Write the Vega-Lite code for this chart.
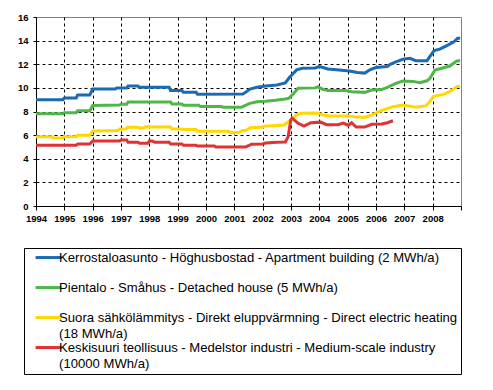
{
  "$schema": "https://vega.github.io/schema/vega-lite/v6.json",
  "width": 425,
  "height": 189,
  "autosize": {"type": "none"},
  "padding": {"left": 36, "top": 17, "right": 32, "bottom": 184},
  "background": "white",
  "config": {
    "view": {"stroke": "#808080", "strokeWidth": 1, "fill": "white"},
    "axis": {
      "labelFont": "Liberation Sans",
      "labelFontWeight": "bold",
      "labelFontSize": 9.5,
      "labelColor": "black",
      "domainColor": "black",
      "tickColor": "black",
      "gridColor": "black",
      "gridDash": [3, 3],
      "gridWidth": 1,
      "title": null
    }
  },
  "datasets": {
    "prices": [
      {"s": "Kerrostaloasunto - Höghusbostad - Apartment building (2 MWh/a)", "x": 1994.0, "v": 9.0},
      {"s": "Kerrostaloasunto - Höghusbostad - Apartment building (2 MWh/a)", "x": 1994.95, "v": 9.0},
      {"s": "Kerrostaloasunto - Höghusbostad - Apartment building (2 MWh/a)", "x": 1995.0, "v": 9.15},
      {"s": "Kerrostaloasunto - Höghusbostad - Apartment building (2 MWh/a)", "x": 1995.42, "v": 9.15},
      {"s": "Kerrostaloasunto - Höghusbostad - Apartment building (2 MWh/a)", "x": 1995.47, "v": 9.4},
      {"s": "Kerrostaloasunto - Höghusbostad - Apartment building (2 MWh/a)", "x": 1995.9, "v": 9.4},
      {"s": "Kerrostaloasunto - Höghusbostad - Apartment building (2 MWh/a)", "x": 1996.0, "v": 9.9},
      {"s": "Kerrostaloasunto - Höghusbostad - Apartment building (2 MWh/a)", "x": 1996.8, "v": 9.9},
      {"s": "Kerrostaloasunto - Höghusbostad - Apartment building (2 MWh/a)", "x": 1996.85, "v": 10.0},
      {"s": "Kerrostaloasunto - Höghusbostad - Apartment building (2 MWh/a)", "x": 1997.2, "v": 10.0},
      {"s": "Kerrostaloasunto - Höghusbostad - Apartment building (2 MWh/a)", "x": 1997.25, "v": 10.15},
      {"s": "Kerrostaloasunto - Höghusbostad - Apartment building (2 MWh/a)", "x": 1997.6, "v": 10.15},
      {"s": "Kerrostaloasunto - Höghusbostad - Apartment building (2 MWh/a)", "x": 1997.65, "v": 10.05},
      {"s": "Kerrostaloasunto - Höghusbostad - Apartment building (2 MWh/a)", "x": 1998.7, "v": 10.05},
      {"s": "Kerrostaloasunto - Höghusbostad - Apartment building (2 MWh/a)", "x": 1998.75, "v": 9.78},
      {"s": "Kerrostaloasunto - Höghusbostad - Apartment building (2 MWh/a)", "x": 1999.15, "v": 9.78},
      {"s": "Kerrostaloasunto - Höghusbostad - Apartment building (2 MWh/a)", "x": 1999.2, "v": 9.63},
      {"s": "Kerrostaloasunto - Höghusbostad - Apartment building (2 MWh/a)", "x": 1999.65, "v": 9.63},
      {"s": "Kerrostaloasunto - Höghusbostad - Apartment building (2 MWh/a)", "x": 1999.7, "v": 9.47},
      {"s": "Kerrostaloasunto - Höghusbostad - Apartment building (2 MWh/a)", "x": 2001.3, "v": 9.48},
      {"s": "Kerrostaloasunto - Höghusbostad - Apartment building (2 MWh/a)", "x": 2001.4, "v": 9.63},
      {"s": "Kerrostaloasunto - Höghusbostad - Apartment building (2 MWh/a)", "x": 2001.55, "v": 9.9},
      {"s": "Kerrostaloasunto - Höghusbostad - Apartment building (2 MWh/a)", "x": 2001.8, "v": 10.05},
      {"s": "Kerrostaloasunto - Höghusbostad - Apartment building (2 MWh/a)", "x": 2002.1, "v": 10.16},
      {"s": "Kerrostaloasunto - Höghusbostad - Apartment building (2 MWh/a)", "x": 2002.5, "v": 10.25},
      {"s": "Kerrostaloasunto - Höghusbostad - Apartment building (2 MWh/a)", "x": 2002.8, "v": 10.42},
      {"s": "Kerrostaloasunto - Höghusbostad - Apartment building (2 MWh/a)", "x": 2002.95, "v": 10.9},
      {"s": "Kerrostaloasunto - Höghusbostad - Apartment building (2 MWh/a)", "x": 2003.2, "v": 11.52},
      {"s": "Kerrostaloasunto - Höghusbostad - Apartment building (2 MWh/a)", "x": 2003.4, "v": 11.66},
      {"s": "Kerrostaloasunto - Höghusbostad - Apartment building (2 MWh/a)", "x": 2003.85, "v": 11.68},
      {"s": "Kerrostaloasunto - Höghusbostad - Apartment building (2 MWh/a)", "x": 2004.0, "v": 11.8},
      {"s": "Kerrostaloasunto - Höghusbostad - Apartment building (2 MWh/a)", "x": 2004.1, "v": 11.75},
      {"s": "Kerrostaloasunto - Höghusbostad - Apartment building (2 MWh/a)", "x": 2004.3, "v": 11.6},
      {"s": "Kerrostaloasunto - Höghusbostad - Apartment building (2 MWh/a)", "x": 2004.7, "v": 11.52},
      {"s": "Kerrostaloasunto - Höghusbostad - Apartment building (2 MWh/a)", "x": 2005.05, "v": 11.43},
      {"s": "Kerrostaloasunto - Höghusbostad - Apartment building (2 MWh/a)", "x": 2005.35, "v": 11.3},
      {"s": "Kerrostaloasunto - Höghusbostad - Apartment building (2 MWh/a)", "x": 2005.6, "v": 11.25},
      {"s": "Kerrostaloasunto - Höghusbostad - Apartment building (2 MWh/a)", "x": 2005.8, "v": 11.55},
      {"s": "Kerrostaloasunto - Höghusbostad - Apartment building (2 MWh/a)", "x": 2006.0, "v": 11.72},
      {"s": "Kerrostaloasunto - Höghusbostad - Apartment building (2 MWh/a)", "x": 2006.4, "v": 11.8},
      {"s": "Kerrostaloasunto - Höghusbostad - Apartment building (2 MWh/a)", "x": 2006.5, "v": 12.0},
      {"s": "Kerrostaloasunto - Höghusbostad - Apartment building (2 MWh/a)", "x": 2006.7, "v": 12.2},
      {"s": "Kerrostaloasunto - Höghusbostad - Apartment building (2 MWh/a)", "x": 2006.95, "v": 12.42},
      {"s": "Kerrostaloasunto - Höghusbostad - Apartment building (2 MWh/a)", "x": 2007.2, "v": 12.5},
      {"s": "Kerrostaloasunto - Höghusbostad - Apartment building (2 MWh/a)", "x": 2007.4, "v": 12.3},
      {"s": "Kerrostaloasunto - Höghusbostad - Apartment building (2 MWh/a)", "x": 2007.8, "v": 12.3},
      {"s": "Kerrostaloasunto - Höghusbostad - Apartment building (2 MWh/a)", "x": 2007.9, "v": 12.64},
      {"s": "Kerrostaloasunto - Höghusbostad - Apartment building (2 MWh/a)", "x": 2008.05, "v": 13.15},
      {"s": "Kerrostaloasunto - Höghusbostad - Apartment building (2 MWh/a)", "x": 2008.25, "v": 13.28},
      {"s": "Kerrostaloasunto - Höghusbostad - Apartment building (2 MWh/a)", "x": 2008.5, "v": 13.58},
      {"s": "Kerrostaloasunto - Höghusbostad - Apartment building (2 MWh/a)", "x": 2008.75, "v": 13.9},
      {"s": "Kerrostaloasunto - Höghusbostad - Apartment building (2 MWh/a)", "x": 2008.88, "v": 14.2},
      {"s": "Kerrostaloasunto - Höghusbostad - Apartment building (2 MWh/a)", "x": 2008.97, "v": 14.2},

      {"s": "Pientalo - Småhus - Detached house (5 MWh/a)", "x": 1994.0, "v": 7.8},
      {"s": "Pientalo - Småhus - Detached house (5 MWh/a)", "x": 1994.95, "v": 7.8},
      {"s": "Pientalo - Småhus - Detached house (5 MWh/a)", "x": 1995.0, "v": 7.9},
      {"s": "Pientalo - Småhus - Detached house (5 MWh/a)", "x": 1995.42, "v": 7.9},
      {"s": "Pientalo - Småhus - Detached house (5 MWh/a)", "x": 1995.47, "v": 8.07},
      {"s": "Pientalo - Småhus - Detached house (5 MWh/a)", "x": 1995.9, "v": 8.07},
      {"s": "Pientalo - Småhus - Detached house (5 MWh/a)", "x": 1996.0, "v": 8.5},
      {"s": "Pientalo - Småhus - Detached house (5 MWh/a)", "x": 1996.95, "v": 8.55},
      {"s": "Pientalo - Småhus - Detached house (5 MWh/a)", "x": 1997.0, "v": 8.62},
      {"s": "Pientalo - Småhus - Detached house (5 MWh/a)", "x": 1997.2, "v": 8.62},
      {"s": "Pientalo - Småhus - Detached house (5 MWh/a)", "x": 1997.25, "v": 8.8},
      {"s": "Pientalo - Småhus - Detached house (5 MWh/a)", "x": 1998.75, "v": 8.8},
      {"s": "Pientalo - Småhus - Detached house (5 MWh/a)", "x": 1998.8, "v": 8.64},
      {"s": "Pientalo - Småhus - Detached house (5 MWh/a)", "x": 1999.15, "v": 8.64},
      {"s": "Pientalo - Småhus - Detached house (5 MWh/a)", "x": 1999.2, "v": 8.52},
      {"s": "Pientalo - Småhus - Detached house (5 MWh/a)", "x": 1999.75, "v": 8.52},
      {"s": "Pientalo - Småhus - Detached house (5 MWh/a)", "x": 1999.8, "v": 8.42},
      {"s": "Pientalo - Småhus - Detached house (5 MWh/a)", "x": 2000.55, "v": 8.42},
      {"s": "Pientalo - Småhus - Detached house (5 MWh/a)", "x": 2000.6, "v": 8.36},
      {"s": "Pientalo - Småhus - Detached house (5 MWh/a)", "x": 2001.25, "v": 8.36},
      {"s": "Pientalo - Småhus - Detached house (5 MWh/a)", "x": 2001.35, "v": 8.47},
      {"s": "Pientalo - Småhus - Detached house (5 MWh/a)", "x": 2001.55, "v": 8.69},
      {"s": "Pientalo - Småhus - Detached house (5 MWh/a)", "x": 2001.8, "v": 8.83},
      {"s": "Pientalo - Småhus - Detached house (5 MWh/a)", "x": 2002.1, "v": 8.87},
      {"s": "Pientalo - Småhus - Detached house (5 MWh/a)", "x": 2002.45, "v": 8.95},
      {"s": "Pientalo - Småhus - Detached house (5 MWh/a)", "x": 2002.8, "v": 9.06},
      {"s": "Pientalo - Småhus - Detached house (5 MWh/a)", "x": 2002.92, "v": 9.12},
      {"s": "Pientalo - Småhus - Detached house (5 MWh/a)", "x": 2003.1, "v": 9.55},
      {"s": "Pientalo - Småhus - Detached house (5 MWh/a)", "x": 2003.25, "v": 9.96},
      {"s": "Pientalo - Småhus - Detached house (5 MWh/a)", "x": 2003.85, "v": 10.0},
      {"s": "Pientalo - Småhus - Detached house (5 MWh/a)", "x": 2003.96, "v": 10.1},
      {"s": "Pientalo - Småhus - Detached house (5 MWh/a)", "x": 2004.1, "v": 9.9},
      {"s": "Pientalo - Småhus - Detached house (5 MWh/a)", "x": 2004.3, "v": 9.77},
      {"s": "Pientalo - Småhus - Detached house (5 MWh/a)", "x": 2004.9, "v": 9.77},
      {"s": "Pientalo - Småhus - Detached house (5 MWh/a)", "x": 2005.15, "v": 9.68},
      {"s": "Pientalo - Småhus - Detached house (5 MWh/a)", "x": 2005.6, "v": 9.62},
      {"s": "Pientalo - Småhus - Detached house (5 MWh/a)", "x": 2005.85, "v": 9.82},
      {"s": "Pientalo - Småhus - Detached house (5 MWh/a)", "x": 2006.2, "v": 9.86},
      {"s": "Pientalo - Småhus - Detached house (5 MWh/a)", "x": 2006.4, "v": 10.05},
      {"s": "Pientalo - Småhus - Detached house (5 MWh/a)", "x": 2006.7, "v": 10.38},
      {"s": "Pientalo - Småhus - Detached house (5 MWh/a)", "x": 2006.95, "v": 10.58},
      {"s": "Pientalo - Småhus - Detached house (5 MWh/a)", "x": 2007.3, "v": 10.55},
      {"s": "Pientalo - Småhus - Detached house (5 MWh/a)", "x": 2007.55, "v": 10.44},
      {"s": "Pientalo - Småhus - Detached house (5 MWh/a)", "x": 2007.8, "v": 10.6},
      {"s": "Pientalo - Småhus - Detached house (5 MWh/a)", "x": 2007.9, "v": 10.8},
      {"s": "Pientalo - Småhus - Detached house (5 MWh/a)", "x": 2008.08, "v": 11.5},
      {"s": "Pientalo - Småhus - Detached house (5 MWh/a)", "x": 2008.26, "v": 11.62},
      {"s": "Pientalo - Småhus - Detached house (5 MWh/a)", "x": 2008.6, "v": 11.85},
      {"s": "Pientalo - Småhus - Detached house (5 MWh/a)", "x": 2008.85, "v": 12.28},
      {"s": "Pientalo - Småhus - Detached house (5 MWh/a)", "x": 2008.97, "v": 12.3},

      {"s": "Suora sähkölämmitys - Direkt eluppvärmning - Direct electric heating (18 MWh/a)", "x": 1994.0, "v": 5.87},
      {"s": "Suora sähkölämmitys - Direkt eluppvärmning - Direct electric heating (18 MWh/a)", "x": 1994.55, "v": 5.87},
      {"s": "Suora sähkölämmitys - Direkt eluppvärmning - Direct electric heating (18 MWh/a)", "x": 1994.6, "v": 5.76},
      {"s": "Suora sähkölämmitys - Direkt eluppvärmning - Direct electric heating (18 MWh/a)", "x": 1994.95, "v": 5.76},
      {"s": "Suora sähkölämmitys - Direkt eluppvärmning - Direct electric heating (18 MWh/a)", "x": 1995.0, "v": 5.87},
      {"s": "Suora sähkölämmitys - Direkt eluppvärmning - Direct electric heating (18 MWh/a)", "x": 1995.42, "v": 5.87},
      {"s": "Suora sähkölämmitys - Direkt eluppvärmning - Direct electric heating (18 MWh/a)", "x": 1995.47, "v": 5.98},
      {"s": "Suora sähkölämmitys - Direkt eluppvärmning - Direct electric heating (18 MWh/a)", "x": 1995.9, "v": 5.98},
      {"s": "Suora sähkölämmitys - Direkt eluppvärmning - Direct electric heating (18 MWh/a)", "x": 1996.0, "v": 6.35},
      {"s": "Suora sähkölämmitys - Direkt eluppvärmning - Direct electric heating (18 MWh/a)", "x": 1996.9, "v": 6.4},
      {"s": "Suora sähkölämmitys - Direkt eluppvärmning - Direct electric heating (18 MWh/a)", "x": 1996.95, "v": 6.52},
      {"s": "Suora sähkölämmitys - Direkt eluppvärmning - Direct electric heating (18 MWh/a)", "x": 1997.18, "v": 6.52},
      {"s": "Suora sähkölämmitys - Direkt eluppvärmning - Direct electric heating (18 MWh/a)", "x": 1997.23, "v": 6.66},
      {"s": "Suora sähkölämmitys - Direkt eluppvärmning - Direct electric heating (18 MWh/a)", "x": 1997.6, "v": 6.66},
      {"s": "Suora sähkölämmitys - Direkt eluppvärmning - Direct electric heating (18 MWh/a)", "x": 1997.65, "v": 6.6},
      {"s": "Suora sähkölämmitys - Direkt eluppvärmning - Direct electric heating (18 MWh/a)", "x": 1997.8, "v": 6.6},
      {"s": "Suora sähkölämmitys - Direkt eluppvärmning - Direct electric heating (18 MWh/a)", "x": 1997.85, "v": 6.7},
      {"s": "Suora sähkölämmitys - Direkt eluppvärmning - Direct electric heating (18 MWh/a)", "x": 1998.75, "v": 6.68},
      {"s": "Suora sähkölämmitys - Direkt eluppvärmning - Direct electric heating (18 MWh/a)", "x": 1998.8, "v": 6.52},
      {"s": "Suora sähkölämmitys - Direkt eluppvärmning - Direct electric heating (18 MWh/a)", "x": 1999.15, "v": 6.52},
      {"s": "Suora sähkölämmitys - Direkt eluppvärmning - Direct electric heating (18 MWh/a)", "x": 1999.2, "v": 6.47},
      {"s": "Suora sähkölämmitys - Direkt eluppvärmning - Direct electric heating (18 MWh/a)", "x": 1999.65, "v": 6.47},
      {"s": "Suora sähkölämmitys - Direkt eluppvärmning - Direct electric heating (18 MWh/a)", "x": 1999.7, "v": 6.33},
      {"s": "Suora sähkölämmitys - Direkt eluppvärmning - Direct electric heating (18 MWh/a)", "x": 2000.8, "v": 6.33},
      {"s": "Suora sähkölämmitys - Direkt eluppvärmning - Direct electric heating (18 MWh/a)", "x": 2000.85, "v": 6.22},
      {"s": "Suora sähkölämmitys - Direkt eluppvärmning - Direct electric heating (18 MWh/a)", "x": 2001.15, "v": 6.22},
      {"s": "Suora sähkölämmitys - Direkt eluppvärmning - Direct electric heating (18 MWh/a)", "x": 2001.25, "v": 6.35},
      {"s": "Suora sähkölämmitys - Direkt eluppvärmning - Direct electric heating (18 MWh/a)", "x": 2001.45, "v": 6.44},
      {"s": "Suora sähkölämmitys - Direkt eluppvärmning - Direct electric heating (18 MWh/a)", "x": 2001.55, "v": 6.62},
      {"s": "Suora sähkölämmitys - Direkt eluppvärmning - Direct electric heating (18 MWh/a)", "x": 2001.95, "v": 6.66},
      {"s": "Suora sähkölämmitys - Direkt eluppvärmning - Direct electric heating (18 MWh/a)", "x": 2002.05, "v": 6.75},
      {"s": "Suora sähkölämmitys - Direkt eluppvärmning - Direct electric heating (18 MWh/a)", "x": 2002.75, "v": 6.86},
      {"s": "Suora sähkölämmitys - Direkt eluppvärmning - Direct electric heating (18 MWh/a)", "x": 2002.95, "v": 7.2},
      {"s": "Suora sähkölämmitys - Direkt eluppvärmning - Direct electric heating (18 MWh/a)", "x": 2003.2, "v": 7.71},
      {"s": "Suora sähkölämmitys - Direkt eluppvärmning - Direct electric heating (18 MWh/a)", "x": 2003.35, "v": 7.85},
      {"s": "Suora sähkölämmitys - Direkt eluppvärmning - Direct electric heating (18 MWh/a)", "x": 2003.95, "v": 7.87},
      {"s": "Suora sähkölämmitys - Direkt eluppvärmning - Direct electric heating (18 MWh/a)", "x": 2004.1, "v": 7.72},
      {"s": "Suora sähkölämmitys - Direkt eluppvärmning - Direct electric heating (18 MWh/a)", "x": 2004.35, "v": 7.62},
      {"s": "Suora sähkölämmitys - Direkt eluppvärmning - Direct electric heating (18 MWh/a)", "x": 2005.0, "v": 7.62},
      {"s": "Suora sähkölämmitys - Direkt eluppvärmning - Direct electric heating (18 MWh/a)", "x": 2005.25, "v": 7.56},
      {"s": "Suora sähkölämmitys - Direkt eluppvärmning - Direct electric heating (18 MWh/a)", "x": 2005.6, "v": 7.5},
      {"s": "Suora sähkölämmitys - Direkt eluppvärmning - Direct electric heating (18 MWh/a)", "x": 2005.85, "v": 7.71},
      {"s": "Suora sähkölämmitys - Direkt eluppvärmning - Direct electric heating (18 MWh/a)", "x": 2006.25, "v": 8.13},
      {"s": "Suora sähkölämmitys - Direkt eluppvärmning - Direct electric heating (18 MWh/a)", "x": 2006.6, "v": 8.41},
      {"s": "Suora sähkölämmitys - Direkt eluppvärmning - Direct electric heating (18 MWh/a)", "x": 2006.95, "v": 8.55},
      {"s": "Suora sähkölämmitys - Direkt eluppvärmning - Direct electric heating (18 MWh/a)", "x": 2007.4, "v": 8.36},
      {"s": "Suora sähkölämmitys - Direkt eluppvärmning - Direct electric heating (18 MWh/a)", "x": 2007.75, "v": 8.47},
      {"s": "Suora sähkölämmitys - Direkt eluppvärmning - Direct electric heating (18 MWh/a)", "x": 2007.9, "v": 8.83},
      {"s": "Suora sähkölämmitys - Direkt eluppvärmning - Direct electric heating (18 MWh/a)", "x": 2008.02, "v": 9.26},
      {"s": "Suora sähkölämmitys - Direkt eluppvärmning - Direct electric heating (18 MWh/a)", "x": 2008.38, "v": 9.45},
      {"s": "Suora sähkölämmitys - Direkt eluppvärmning - Direct electric heating (18 MWh/a)", "x": 2008.6, "v": 9.68},
      {"s": "Suora sähkölämmitys - Direkt eluppvärmning - Direct electric heating (18 MWh/a)", "x": 2008.85, "v": 10.1},
      {"s": "Suora sähkölämmitys - Direkt eluppvärmning - Direct electric heating (18 MWh/a)", "x": 2008.97, "v": 10.15},

      {"s": "Keskisuuri teollisuus - Medelstor industri - Medium-scale industry (10000 MWh/a)", "x": 1994.0, "v": 5.14},
      {"s": "Keskisuuri teollisuus - Medelstor industri - Medium-scale industry (10000 MWh/a)", "x": 1995.42, "v": 5.14},
      {"s": "Keskisuuri teollisuus - Medelstor industri - Medium-scale industry (10000 MWh/a)", "x": 1995.47, "v": 5.25},
      {"s": "Keskisuuri teollisuus - Medelstor industri - Medium-scale industry (10000 MWh/a)", "x": 1995.9, "v": 5.25},
      {"s": "Keskisuuri teollisuus - Medelstor industri - Medium-scale industry (10000 MWh/a)", "x": 1996.0, "v": 5.5},
      {"s": "Keskisuuri teollisuus - Medelstor industri - Medium-scale industry (10000 MWh/a)", "x": 1996.95, "v": 5.5},
      {"s": "Keskisuuri teollisuus - Medelstor industri - Medium-scale industry (10000 MWh/a)", "x": 1997.0, "v": 5.59},
      {"s": "Keskisuuri teollisuus - Medelstor industri - Medium-scale industry (10000 MWh/a)", "x": 1997.2, "v": 5.59},
      {"s": "Keskisuuri teollisuus - Medelstor industri - Medium-scale industry (10000 MWh/a)", "x": 1997.25, "v": 5.39},
      {"s": "Keskisuuri teollisuus - Medelstor industri - Medium-scale industry (10000 MWh/a)", "x": 1997.6, "v": 5.39},
      {"s": "Keskisuuri teollisuus - Medelstor industri - Medium-scale industry (10000 MWh/a)", "x": 1997.65, "v": 5.31},
      {"s": "Keskisuuri teollisuus - Medelstor industri - Medium-scale industry (10000 MWh/a)", "x": 1997.95, "v": 5.31},
      {"s": "Keskisuuri teollisuus - Medelstor industri - Medium-scale industry (10000 MWh/a)", "x": 1998.0, "v": 5.5},
      {"s": "Keskisuuri teollisuus - Medelstor industri - Medium-scale industry (10000 MWh/a)", "x": 1998.1, "v": 5.5},
      {"s": "Keskisuuri teollisuus - Medelstor industri - Medium-scale industry (10000 MWh/a)", "x": 1998.2, "v": 5.39},
      {"s": "Keskisuuri teollisuus - Medelstor industri - Medium-scale industry (10000 MWh/a)", "x": 1998.7, "v": 5.39},
      {"s": "Keskisuuri teollisuus - Medelstor industri - Medium-scale industry (10000 MWh/a)", "x": 1998.75, "v": 5.25},
      {"s": "Keskisuuri teollisuus - Medelstor industri - Medium-scale industry (10000 MWh/a)", "x": 1999.15, "v": 5.25},
      {"s": "Keskisuuri teollisuus - Medelstor industri - Medium-scale industry (10000 MWh/a)", "x": 1999.2, "v": 5.14},
      {"s": "Keskisuuri teollisuus - Medelstor industri - Medium-scale industry (10000 MWh/a)", "x": 1999.65, "v": 5.14},
      {"s": "Keskisuuri teollisuus - Medelstor industri - Medium-scale industry (10000 MWh/a)", "x": 1999.7, "v": 5.08},
      {"s": "Keskisuuri teollisuus - Medelstor industri - Medium-scale industry (10000 MWh/a)", "x": 2000.3, "v": 5.08},
      {"s": "Keskisuuri teollisuus - Medelstor industri - Medium-scale industry (10000 MWh/a)", "x": 2000.35, "v": 5.0},
      {"s": "Keskisuuri teollisuus - Medelstor industri - Medium-scale industry (10000 MWh/a)", "x": 2001.4, "v": 5.0},
      {"s": "Keskisuuri teollisuus - Medelstor industri - Medium-scale industry (10000 MWh/a)", "x": 2001.5, "v": 5.1},
      {"s": "Keskisuuri teollisuus - Medelstor industri - Medium-scale industry (10000 MWh/a)", "x": 2001.6, "v": 5.22},
      {"s": "Keskisuuri teollisuus - Medelstor industri - Medium-scale industry (10000 MWh/a)", "x": 2002.0, "v": 5.25},
      {"s": "Keskisuuri teollisuus - Medelstor industri - Medium-scale industry (10000 MWh/a)", "x": 2002.1, "v": 5.33},
      {"s": "Keskisuuri teollisuus - Medelstor industri - Medium-scale industry (10000 MWh/a)", "x": 2002.5, "v": 5.39},
      {"s": "Keskisuuri teollisuus - Medelstor industri - Medium-scale industry (10000 MWh/a)", "x": 2002.8, "v": 5.42},
      {"s": "Keskisuuri teollisuus - Medelstor industri - Medium-scale industry (10000 MWh/a)", "x": 2002.9, "v": 5.87},
      {"s": "Keskisuuri teollisuus - Medelstor industri - Medium-scale industry (10000 MWh/a)", "x": 2002.99, "v": 7.28},
      {"s": "Keskisuuri teollisuus - Medelstor industri - Medium-scale industry (10000 MWh/a)", "x": 2003.04, "v": 7.43},
      {"s": "Keskisuuri teollisuus - Medelstor industri - Medium-scale industry (10000 MWh/a)", "x": 2003.25, "v": 7.0},
      {"s": "Keskisuuri teollisuus - Medelstor industri - Medium-scale industry (10000 MWh/a)", "x": 2003.46, "v": 6.77},
      {"s": "Keskisuuri teollisuus - Medelstor industri - Medium-scale industry (10000 MWh/a)", "x": 2003.7, "v": 7.05},
      {"s": "Keskisuuri teollisuus - Medelstor industri - Medium-scale industry (10000 MWh/a)", "x": 2004.05, "v": 7.1},
      {"s": "Keskisuuri teollisuus - Medelstor industri - Medium-scale industry (10000 MWh/a)", "x": 2004.25, "v": 6.88},
      {"s": "Keskisuuri teollisuus - Medelstor industri - Medium-scale industry (10000 MWh/a)", "x": 2004.65, "v": 6.88},
      {"s": "Keskisuuri teollisuus - Medelstor industri - Medium-scale industry (10000 MWh/a)", "x": 2004.85, "v": 7.02},
      {"s": "Keskisuuri teollisuus - Medelstor industri - Medium-scale industry (10000 MWh/a)", "x": 2005.02, "v": 6.82},
      {"s": "Keskisuuri teollisuus - Medelstor industri - Medium-scale industry (10000 MWh/a)", "x": 2005.14, "v": 7.05},
      {"s": "Keskisuuri teollisuus - Medelstor industri - Medium-scale industry (10000 MWh/a)", "x": 2005.3, "v": 6.68},
      {"s": "Keskisuuri teollisuus - Medelstor industri - Medium-scale industry (10000 MWh/a)", "x": 2005.6, "v": 6.68},
      {"s": "Keskisuuri teollisuus - Medelstor industri - Medium-scale industry (10000 MWh/a)", "x": 2005.85, "v": 6.92},
      {"s": "Keskisuuri teollisuus - Medelstor industri - Medium-scale industry (10000 MWh/a)", "x": 2006.2, "v": 6.95},
      {"s": "Keskisuuri teollisuus - Medelstor industri - Medium-scale industry (10000 MWh/a)", "x": 2006.4, "v": 7.05},
      {"s": "Keskisuuri teollisuus - Medelstor industri - Medium-scale industry (10000 MWh/a)", "x": 2006.6, "v": 7.22}
    ]
  },
  "data": {"name": "prices"},
  "mark": {"type": "line", "strokeWidth": 3, "interpolate": "linear"},
  "encoding": {
    "x": {
      "field": "x",
      "type": "quantitative",
      "scale": {"domain": [1994, 2009], "nice": false, "zero": false},
      "axis": {
        "values": [1994, 1995, 1996, 1997, 1998, 1999, 2000, 2001, 2002, 2003, 2004, 2005, 2006, 2007, 2008, 2009],
        "format": "d",
        "labelExpr": "datum.value == 2009 ? '' : datum.label",
        "tickSize": 4,
        "labelPadding": 3,
        "labelFlush": false,
        "labelOverlap": false,
        "gridOpacity": {"condition": {"test": "datum.value == 1994 || datum.value == 2009", "value": 0}, "value": 1}
      }
    },
    "y": {
      "field": "v",
      "type": "quantitative",
      "scale": {"domain": [0, 16], "nice": false},
      "axis": {
        "values": [0, 2, 4, 6, 8, 10, 12, 14, 16],
        "tickSize": 3,
        "labelPadding": 5,
        "gridOpacity": {"condition": {"test": "datum.value == 0 || datum.value == 16", "value": 0}, "value": 1}
      }
    },
    "color": {
      "field": "s",
      "type": "nominal",
      "scale": {
        "domain": [
          "Kerrostaloasunto - Höghusbostad - Apartment building (2 MWh/a)",
          "Pientalo - Småhus - Detached house (5 MWh/a)",
          "Suora sähkölämmitys - Direkt eluppvärmning - Direct electric heating (18 MWh/a)",
          "Keskisuuri teollisuus - Medelstor industri - Medium-scale industry (10000 MWh/a)"
        ],
        "range": ["#1B6AB4", "#4DB848", "#FFD800", "#E03232"]
      },
      "legend": {
        "title": null,
        "orient": "none",
        "legendX": -12,
        "legendY": 231,
        "direction": "vertical",
        "columns": 1,
        "gridAlign": "all",
        "rowPadding": -6,
        "padding": 3,
        "strokeColor": "black",
        "fillColor": "white",
        "labelFont": "Liberation Sans",
        "labelFontSize": 13.1,
        "labelColor": "black",
        "labelLimit": 600,
        "labelOffset": 4,
        "labelBaseline": "middle",
        "labelExpr": "(indexof(datum.label, 'Suora') == 0 || indexof(datum.label, 'Keskisuuri') == 0) ? [slice(datum.label, 0, indexof(datum.label, ' (')), slice(datum.label, indexof(datum.label, ' (') + 1)] : datum.label",
        "symbolType": "M-5,0H5",
        "symbolSize": 27,
        "symbolStrokeWidth": 3,
        "symbolOffset": 15,
        "encode": {"labels": {"update": {"lineHeight": {"value": 16}}}}
      }
    }
  }
}
